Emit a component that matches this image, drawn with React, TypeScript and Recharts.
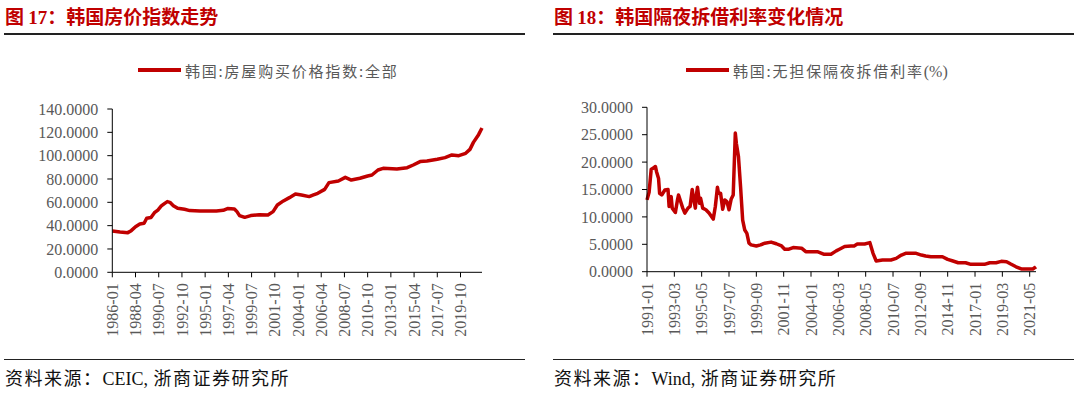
import { Line, LineChart, XAxis, YAxis } from 'recharts';

const RED = '#C00000';
const GREY = '#595959';
const CJK = '"Noto Sans CJK SC", "Noto Sans", sans-serif';
const SERIF = '"Liberation Serif", "Times New Roman", serif';

// 图17 韩国房价指数
const houseMonths = [
  '1986-01', '1986-10', '1987-07', '1987-11', '1988-04', '1988-09', '1989-02', '1989-05', '1989-10',
  '1990-02', '1990-06', '1990-10', '1991-02', '1991-05', '1991-08', '1991-12', '1992-05', '1993-01',
  '1993-07', '1994-07', '1996-02', '1996-10', '1997-03', '1997-11', '1998-02', '1998-05', '1998-11',
  '1999-06', '2000-04', '2001-02', '2001-08', '2002-01', '2002-08', '2003-03', '2003-10', '2004-05',
  '2005-02', '2005-07', '2005-12', '2006-08', '2007-01', '2007-12', '2008-08', '2009-03', '2010-01',
  '2010-10', '2011-03', '2011-10', '2012-04', '2013-08', '2014-08', '2015-03', '2015-11', '2016-07',
  '2017-07', '2018-04', '2018-12', '2019-08', '2020-04', '2020-09', '2021-01', '2021-07', '2021-11'
];
const houseValues = [
  35.4, 34.6, 34.0, 35.7, 39.1, 41.4, 42.0, 46.3, 46.9,
  51.1, 53.4, 56.9, 59.1, 60.6, 60.0, 57.1, 54.9, 54.0,
  52.9, 52.6, 52.6, 53.1, 54.6, 54.3, 52.0, 48.6, 47.1,
  48.6, 49.4, 49.1, 52.0, 57.7, 61.2, 64.0, 67.1, 66.3,
  64.9, 66.3, 67.7, 71.1, 76.9, 78.3, 81.4, 79.1, 80.6,
  82.6, 83.4, 87.7, 89.1, 88.6, 89.7, 92.0, 94.9, 95.4,
  96.9, 98.3, 100.6, 100.0, 102.0, 105.4, 111.4, 118.0, 123.7
];
const houseTicks = [
  '1986-01', '1988-04', '1990-07', '1992-10', '1995-01', '1997-04', '1999-07', '2001-10',
  '2004-01', '2006-04', '2008-07', '2010-10', '2013-01', '2015-04', '2017-07', '2019-10'
];
const houseYTicks = [0, 20, 40, 60, 80, 100, 120, 140];

// 图18 韩国无担保隔夜拆借利率
const rateMonths = [
  '1991-01', '1991-03', '1991-05', '1991-07', '1991-09', '1991-10', '1991-12', '1992-01', '1992-03',
  '1992-06', '1992-09', '1992-10', '1992-11', '1992-12', '1993-01', '1993-04', '1993-06', '1993-07',
  '1993-09', '1993-11', '1994-01', '1994-04', '1994-06', '1994-08', '1994-09', '1994-11', '1994-12',
  '1995-01', '1995-03', '1995-04', '1995-06', '1995-09', '1995-12', '1996-04', '1996-06', '1996-08',
  '1996-09', '1996-11', '1997-01', '1997-03', '1997-05', '1997-07', '1997-09', '1997-11', '1998-01',
  '1998-02', '1998-04', '1998-06', '1998-08', '1998-10', '1998-12', '1999-02', '1999-04', '1999-09',
  '2000-01', '2000-05', '2000-11', '2001-04', '2001-09', '2001-12', '2002-04', '2002-08', '2003-04',
  '2003-08', '2004-07', '2005-01', '2005-08', '2006-01', '2006-04', '2006-09', '2007-03', '2007-06',
  '2007-09', '2008-04', '2008-09', '2008-12', '2009-03', '2009-09', '2010-05', '2010-10', '2011-03',
  '2011-07', '2012-05', '2012-10', '2013-02', '2013-07', '2014-06', '2014-11', '2015-04', '2015-09',
  '2016-04', '2016-09', '2017-10', '2018-03', '2018-09', '2019-02', '2019-07', '2019-11', '2020-04',
  '2020-09', '2021-08', '2021-10', '2021-11'
];
const rateValues = [
  13.1, 14.5, 18.7, 18.9, 19.2, 18.3, 17.0, 14.3, 14.0,
  14.9, 15.0, 11.9, 13.4, 13.7, 11.6, 10.8, 13.1, 14.0,
  12.8, 11.6, 10.7, 11.6, 11.9, 15.0, 13.7, 11.6, 14.0,
  15.4, 12.5, 13.4, 11.6, 11.3, 10.7, 9.6, 11.9, 15.4,
  14.3, 14.3, 11.4, 13.1, 12.8, 11.3, 13.2, 14.0, 25.3,
  23.4, 21.0, 15.5, 9.4, 7.6, 7.0, 5.2, 4.9, 4.7,
  4.9, 5.2, 5.4, 5.1, 4.7, 4.1, 4.1, 4.4, 4.3,
  3.65, 3.65, 3.2, 3.2, 3.8, 4.1, 4.6, 4.7, 4.7,
  5.05, 5.05, 5.3, 3.35, 1.95, 2.13, 2.13, 2.43, 3.04,
  3.35, 3.35, 3.04, 2.86, 2.74, 2.74, 2.25, 1.95, 1.64,
  1.64, 1.34, 1.34, 1.64, 1.64, 1.89, 1.83, 1.4, 0.9,
  0.5, 0.5, 0.75, 0.9
];
const rateTicks = [
  '1991-01', '1993-03', '1995-05', '1997-07', '1999-09', '2001-11', '2004-01', '2006-03',
  '2008-05', '2010-07', '2012-09', '2014-11', '2017-01', '2019-03', '2021-05'
];
const rateYTicks = [0, 5, 10, 15, 20, 25, 30];

function monthIndex(label: string, start: string) {
  const [y, m] = label.split('-').map(Number);
  const [y0, m0] = start.split('-').map(Number);
  return (y - y0) * 12 + (m - m0);
}

function buildData(months: string[], values: number[]) {
  return months.map((mo, i) => ({ m: monthIndex(mo, months[0]), v: values[i] }));
}

function DateTick(props: any) {
  const { x, y, payload, labels } = props;
  return (
    <g transform={`translate(${x},${y})`}>
      <text
        transform="rotate(-90)"
        x={-4}
        dy="0.35em"
        textAnchor="end"
        fill={GREY}
        fontFamily={SERIF}
        fontSize={16}
      >
        {labels[payload.value]}
      </text>
    </g>
  );
}

type PanelProps = {
  base: number;
  num: string;
  title: string;
  legend: string;
  legendTail?: string;
  legendX: number;
  source: string;
  months: string[];
  values: number[];
  ticks: string[];
  yTicks: number[];
  margin: { top: number; right: number; left: number; bottom: number };
};

function Panel(p: PanelProps) {
  const data = buildData(p.months, p.values);
  const start = p.months[0];
  const tickPos = p.ticks.map((t) => monthIndex(t, start));
  const labelAt: Record<number, string> = {};
  p.ticks.forEach((t, i) => (labelAt[tickPos[i]] = t));
  const end = monthIndex(p.months[p.months.length - 1], start);

  return (
    <>
      <div
        style={{
          position: 'absolute',
          left: p.base + 5,
          top: 4,
          fontFamily: CJK,
          fontWeight: 700,
          fontSize: 19,
          lineHeight: '24px',
          color: RED,
          whiteSpace: 'nowrap'
        }}
      >
        图 <span style={{ fontFamily: SERIF }}>{p.num}</span>：{p.title}
      </div>
      <div style={{ position: 'absolute', left: p.base + 4, top: 32.5, width: 521, height: 2, background: '#222' }} />

      <div style={{ position: 'absolute', left: p.base + p.legendX, top: 68.3, width: 43, height: 3.5, background: RED }} />
      <div
        style={{
          position: 'absolute',
          left: p.base + p.legendX + 47,
          top: 60.5,
          fontFamily: CJK,
          fontSize: 15,
          lineHeight: '20px',
          letterSpacing: 1.8,
          color: GREY,
          whiteSpace: 'nowrap'
        }}
      >
        {p.legend}
        {p.legendTail && <span style={{ fontFamily: SERIF, letterSpacing: 0, fontSize: 16 }}>{p.legendTail}</span>}
      </div>

      <LineChart
        width={540}
        height={394}
        data={data}
        margin={p.margin}
        style={{ position: 'absolute', left: p.base === 0 ? 0 : 540, top: 0 }}
      >
        <XAxis
          dataKey="m"
          type="number"
          domain={[0, end]}
          ticks={tickPos}
          interval={0}
          height={70}
          tickSize={5}
          tickMargin={2}
          axisLine={{ stroke: '#000' }}
          tickLine={{ stroke: '#000' }}
          tick={(props: any) => <DateTick {...props} labels={labelAt} />}
        />
        <YAxis
          type="number"
          domain={[p.yTicks[0], p.yTicks[p.yTicks.length - 1]]}
          ticks={p.yTicks}
          interval={0}
          width={100}
          tickSize={5}
          tickMargin={9}
          axisLine={{ stroke: '#000' }}
          tickLine={{ stroke: '#000' }}
          tick={{ fill: GREY, fontSize: 16, fontFamily: SERIF }}
          tickFormatter={(v: number) => v.toFixed(4)}
        />
        <Line
          type="linear"
          dataKey="v"
          stroke={RED}
          strokeWidth={3.5}
          strokeLinejoin="round"
          dot={false}
          isAnimationActive={false}
        />
      </LineChart>

      <div style={{ position: 'absolute', left: p.base + 4, top: 358.5, width: 521, height: 1.5, background: '#222' }} />
      <div
        style={{
          position: 'absolute',
          left: p.base + 5,
          top: 365,
          fontFamily: CJK,
          fontSize: 18,
          lineHeight: '24px',
          letterSpacing: 1.5,
          color: '#111',
          whiteSpace: 'nowrap'
        }}
      >
        资料来源：<span style={{ fontFamily: SERIF, letterSpacing: 0 }}>{p.source},</span> 浙商证券研究所
      </div>
    </>
  );
}

export default function App() {
  return (
    <div style={{ position: 'absolute', left: 0, top: 0, width: 1080, height: 394, background: '#fff', overflow: 'hidden' }}>
      <Panel
        base={0}
        num="17"
        title="韩国房价指数走势"
        legend="韩国:房屋购买价格指数:全部"
        legendX={138}
        source="CEIC"
        months={houseMonths}
        values={houseValues}
        ticks={houseTicks}
        yTicks={houseYTicks}
        margin={{ top: 109, right: 58, left: 12.3, bottom: 51.7 }}
      />
      <Panel
        base={549}
        num="18"
        title="韩国隔夜拆借利率变化情况"
        legend="韩国:无担保隔夜拆借利率"
        legendTail="(%)"
        legendX={137}
        source="Wind"
        months={rateMonths}
        values={rateValues}
        ticks={rateTicks}
        yTicks={rateYTicks}
        margin={{ top: 107.3, right: 44, left: 7, bottom: 52.3 }}
      />
    </div>
  );
}
